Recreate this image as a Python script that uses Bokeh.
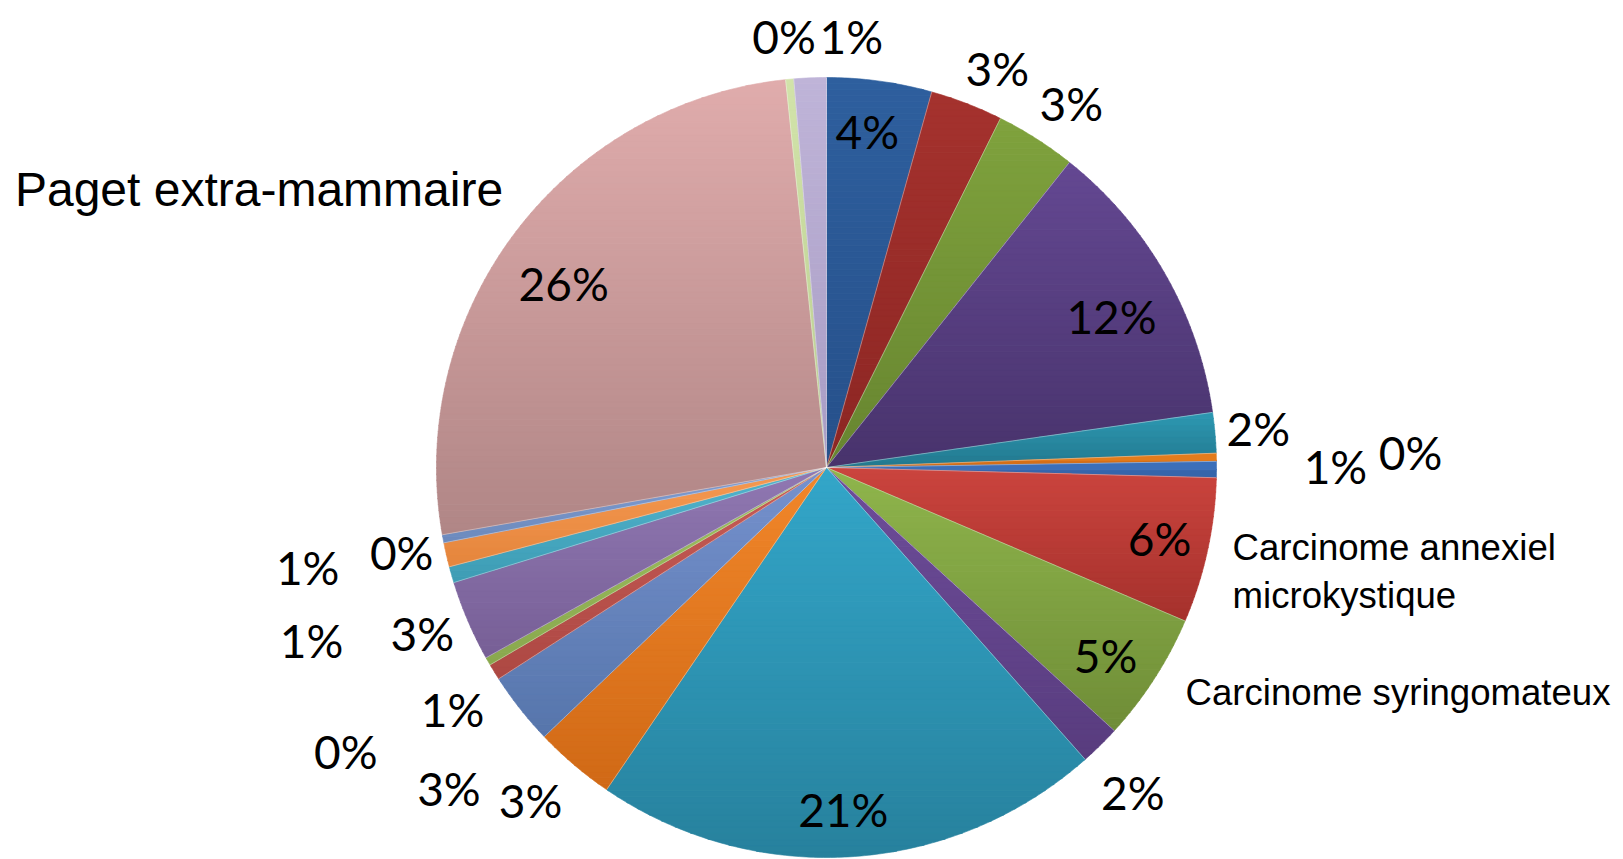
import numpy as np
from bokeh.plotting import figure
from bokeh.models import Range1d
from bokeh.core.properties import value
from bokeh.embed import file_html
from bokeh.resources import INLINE

# ---------------- data (clockwise from 12 o'clock) ----------------
slice_counts = [13, 9, 10, 36, 5, 1, 2, 18, 16, 5, 63, 10, 9, 2, 1, 10, 2, 3, 1, 78, 1, 4]
slice_names = ["", "", "", "", "", "", "", "Carcinome annexiel\nmicrokystique",
               "Carcinome syringomateux", "", "", "", "", "", "", "", "", "", "",
               "Paget extra-mammaire", "", ""]
color_top = ["#2E5F9E", "#A5322E", "#7FA23D", "#644892", "#2D98B2", "#EA821F", "#3F74C1",
             "#CB443E", "#8FB54C", "#6E4D9A", "#33A6C9", "#F2872A", "#7692CE", "#C85D58",
             "#A0C361", "#9078B2", "#52B5CE", "#F79A52", "#809FD5", "#E0ACAC", "#D2E3AA",
             "#BFB4D8"]
color_bottom = ["#26508A", "#8C2623", "#678530", "#48336C", "#22788E", "#CE6914", "#3360A3",
                "#A5312C", "#6F8D37", "#583C7E", "#27819D", "#D06916", "#5675AB", "#AD4843",
                "#89A84E", "#775F96", "#3D9CB4", "#E4853C", "#6C89BC", "#B08686", "#BACE90",
                "#A89CC4"]

# ---------------- layout ----------------
W, H = 1623, 859
CX, CY, R = 826.0, H - 467.0, 390.0
# percentage label: radius factor and angular nudge (deg) from slice mid-angle
lab_r = [0.868, 1.113, 1.125, 0.827, 1.112, 1.498, 1.305, 0.873, 0.863, 1.145, 0.878,
         1.142, 1.27, 1.142, 1.432, 1.12, 1.393, 1.355, 1.111, 0.823, 1.11, 1.107]
lab_nudge = [-0.9, 2.1, 1.4, 1.9, -0.1, 0.0, -0.4, -0.35, 1.2, 1.25, 0.8,
             1.3, -2.1, -1.3, -0.8, 0.9, -2.65, 2.0, -0.8, -2.0, -0.2, 5.7]
# category label anchors: (radius factor, absolute angle clockwise from top, font px)
name_pos = {7: (1.061, 101.08, 36.6), 8: (1.086, 122.02, 36.6), 19: (2.1995, 288.9, 48)}


def hex2rgb(h):
    h = h.lstrip("#")
    return np.array([int(h[i:i + 2], 16) for i in (0, 2, 4)], dtype=float)


def rgb2hex(c):
    c = np.clip(np.round(c), 0, 255).astype(int)
    return "#%02x%02x%02x" % tuple(c)


def clip_half(pts, keep, y0):
    out = []
    n = len(pts)
    for i in range(n):
        cur, prev = pts[i], pts[i - 1]
        kc, kp = keep(cur), keep(prev)
        if kc:
            if not kp:
                t = (y0 - prev[1]) / (cur[1] - prev[1])
                out.append((prev[0] + t * (cur[0] - prev[0]), y0))
            out.append(cur)
        elif kp:
            t = (y0 - prev[1]) / (cur[1] - prev[1])
            out.append((prev[0] + t * (cur[0] - prev[0]), y0))
    return out


def clip_band(pts, ylo, yhi):
    pts = clip_half(pts, lambda p: p[1] >= ylo, ylo)
    if len(pts) < 3:
        return None
    pts = clip_half(pts, lambda p: p[1] <= yhi, yhi)
    if len(pts) < 3:
        return None
    return pts


total = float(sum(slice_counts))
frac = np.array(slice_counts) / total
ends = np.cumsum(frac) * 360.0
starts = np.concatenate([[0.0], ends[:-1]])
mids = (starts + ends) / 2.0

p = figure(width=W, height=H, x_range=Range1d(0, W), y_range=Range1d(0, H),
           output_backend="svg", toolbar_location=None, min_border=0,
           x_axis_location=None, y_axis_location=None)
p.grid.visible = False
p.outline_line_color = None
p.background_fill_color = "white"
p.border_fill_color = "white"

bxs, bys, bcols = [], [], []
for i in range(len(slice_counts)):
    a0, a1 = starts[i], ends[i]
    n = max(3, int((a1 - a0) / 0.5))
    th = np.radians(np.linspace(a0, a1, n))
    xs = [CX] + list(CX + R * np.sin(th))
    ys = [CY] + list(CY + R * np.cos(th))
    pts = list(zip(xs, ys))
    ymin, ymax = min(ys), max(ys)
    nb = max(2, int((ymax - ymin) / 6))
    hb = (ymax - ymin) / nb
    ct, cb = hex2rgb(color_top[i]), hex2rgb(color_bottom[i])
    for b in range(nb):
        ylo = ymin + b * hb
        yhi = ylo + hb
        poly = clip_band(pts, ylo - 0.3, yhi + 0.3)
        if poly is None:
            continue
        t = (ymax - (ylo + yhi) / 2) / (ymax - ymin)
        bxs.append([q[0] for q in poly])
        bys.append([q[1] for q in poly])
        bcols.append(rgb2hex(ct + (cb - ct) * t))

p.patches(bxs, bys, fill_color=bcols, line_color=bcols, line_width=0.6)

# light separators between slices
sep_ang = np.radians(starts)
p.segment(x0=[CX] * len(sep_ang), y0=[CY] * len(sep_ang),
          x1=list(CX + R * np.sin(sep_ang)), y1=list(CY + R * np.cos(sep_ang)),
          line_color="white", line_alpha=0.35, line_width=1)

# percentage labels
pct_text = ["%d%%" % int(np.floor(f * 100 + 0.5)) for f in frac]
la = np.radians(mids + np.array(lab_nudge))
lx = CX + R * np.array(lab_r) * np.sin(la)
ly = CY + R * np.array(lab_r) * np.cos(la)
p.text(x=list(lx), y=list(ly), text=pct_text, text_align="center", text_baseline="middle",
       text_font=value("Lato"), text_font_size="46px", text_color="black")

# category names
for i, (rf, ang, fs) in name_pos.items():
    a = np.radians(ang)
    x0 = CX + R * rf * np.sin(a)
    y0 = CY + R * rf * np.cos(a)
    lines = slice_names[i].split("\n")
    for k, line in enumerate(lines):
        p.text(x=[x0], y=[y0 - k * fs * 1.32], text=[line], text_align="left",
               text_baseline="alphabetic", text_font=value("Liberation Sans"),
               text_font_size="%.1fpx" % fs, text_color="black")

open("out.html", "w").write(file_html(p, INLINE))
